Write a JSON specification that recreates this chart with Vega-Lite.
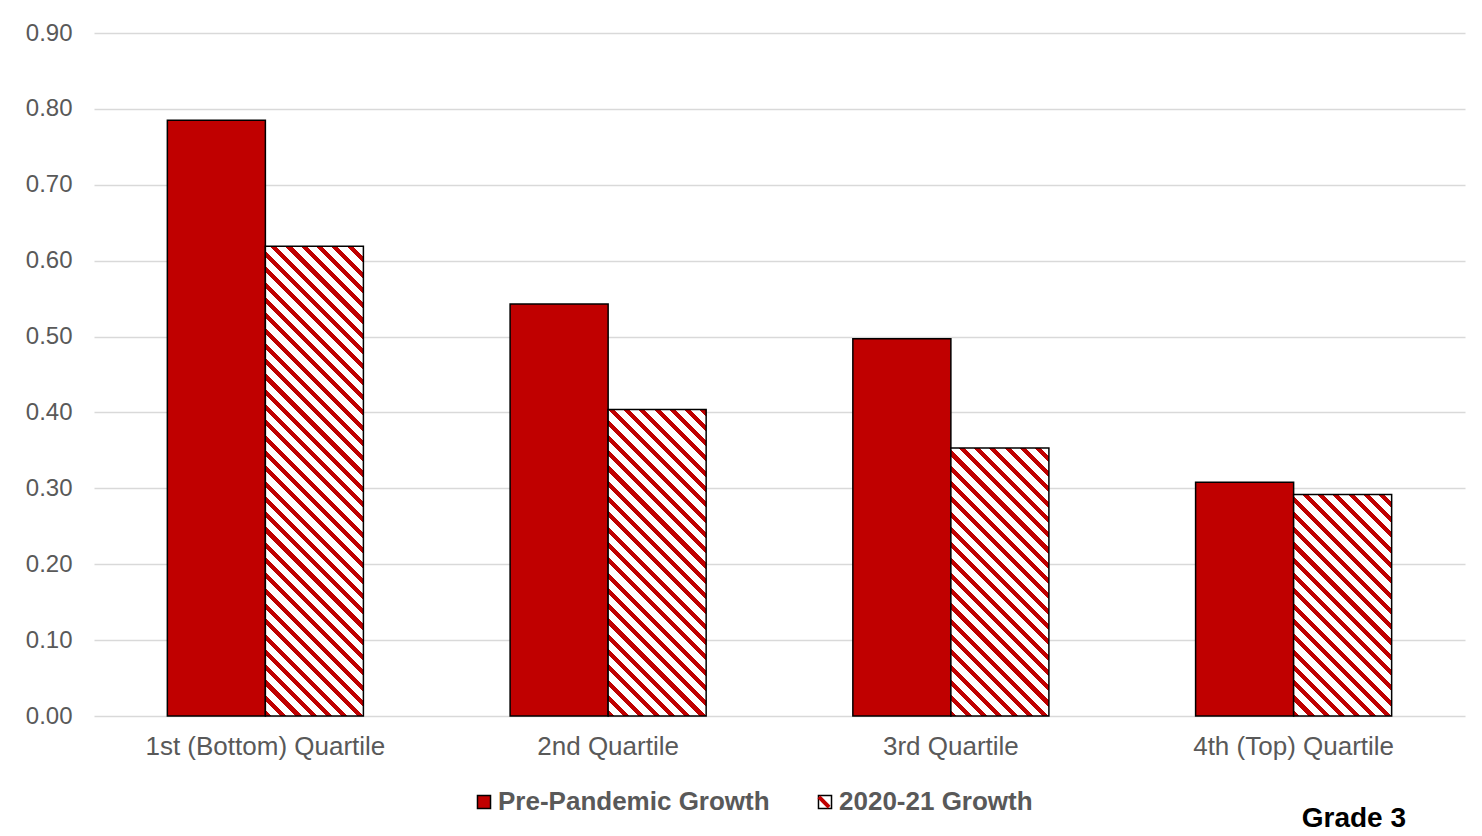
{
  "$schema": "https://vega.github.io/schema/vega-lite/v6.json",
  "autosize": {"type": "none"},
  "padding": {"left": 94, "top": 33, "right": 17, "bottom": 120},
  "width": 1371,
  "height": 683,
  "background": "#ffffff",
  "config": {"view": {"stroke": null}, "font": "Liberation Sans"},
  "title": {"text": "Grade 3", "orient": "bottom", "anchor": "end", "frame": "group", "fontSize": 28, "fontWeight": "bold", "color": "#000000", "font": "Liberation Sans", "dx": -59, "offset": 0, "dy": -11},
  "data": {"values": [
    {"quartile": "1st (Bottom) Quartile", "series": "Pre-Pandemic Growth", "value": 0.785},
    {"quartile": "1st (Bottom) Quartile", "series": "2020-21 Growth", "value": 0.619},
    {"quartile": "2nd Quartile", "series": "Pre-Pandemic Growth", "value": 0.543},
    {"quartile": "2nd Quartile", "series": "2020-21 Growth", "value": 0.404},
    {"quartile": "3rd Quartile", "series": "Pre-Pandemic Growth", "value": 0.497},
    {"quartile": "3rd Quartile", "series": "2020-21 Growth", "value": 0.353},
    {"quartile": "4th (Top) Quartile", "series": "Pre-Pandemic Growth", "value": 0.308},
    {"quartile": "4th (Top) Quartile", "series": "2020-21 Growth", "value": 0.292}
  ]},
  "encoding": {
    "x": {"field": "quartile", "type": "nominal", "sort": ["1st (Bottom) Quartile", "2nd Quartile", "3rd Quartile", "4th (Top) Quartile"],
      "scale": {"paddingInner": 0.428, "paddingOuter": 0.214},
      "axis": {"title": null, "labelAngle": 0, "domain": false, "ticks": false, "grid": false, "labelFontSize": 26, "labelColor": "#595959", "labelFont": "Liberation Sans", "labelPadding": 17, "labelLimit": 0}},
    "xOffset": {"field": "series", "type": "nominal", "sort": ["Pre-Pandemic Growth", "2020-21 Growth"], "scale": {"paddingInner": 0, "paddingOuter": 0}},
    "y": {"field": "value", "type": "quantitative", "scale": {"domain": [0, 0.9], "nice": false},
      "axis": {"title": null, "values": [0, 0.1, 0.2, 0.3, 0.4, 0.5, 0.6, 0.7, 0.8, 0.9], "format": ".2f", "domain": false, "ticks": false, "labelFontSize": 24, "labelColor": "#595959", "labelFont": "Liberation Sans", "labelPadding": 22, "gridColor": "#d9d9d9", "gridWidth": 1.5}}
  },
  "layer": [
    {
      "transform": [{"filter": "datum.series === 'Pre-Pandemic Growth'"}],
      "mark": {"type": "bar", "stroke": "#000000", "strokeWidth": 1.5},
      "encoding": {
        "color": {"field": "series", "type": "nominal",
          "scale": {"domain": ["Pre-Pandemic Growth", "2020-21 Growth"], "range": ["#c00000", "#ffffff"]},
          "legend": {"title": null, "orient": "none", "legendX": 377, "legendY": 756, "direction": "horizontal", "labelFontSize": 26, "labelFontWeight": "bold", "labelColor": "#595959", "labelFont": "Liberation Sans", "labelLimit": 0, "symbolType": "square", "symbolSize": 170, "symbolStrokeColor": "#000000", "symbolStrokeWidth": 1.5, "symbolOpacity": 1, "columnPadding": 42, "labelOffset": 1}
        }
      }
    },
    {
      "transform": [{"filter": "datum.series === '2020-21 Growth'"}],
      "mark": {"type": "bar", "opacity": 0},
      "encoding": {
        "stroke": {"field": "series", "type": "nominal",
          "scale": {"domain": ["2020-21 Growth"], "range": ["#c00000"]},
          "legend": {"title": null, "orient": "none", "legendX": 717, "legendY": 756, "zindex": 2, "direction": "horizontal", "labelFontSize": 26, "labelFontWeight": "bold", "labelColor": "#595959", "labelFont": "Liberation Sans", "labelExpr": "' '", "symbolType": "M-0.78,-0.78L0.78,0.78", "symbolSize": 170, "symbolStrokeWidth": 4, "symbolFillColor": "transparent", "symbolOpacity": 1, "labelOffset": 1}
        }
      }
    },
    {
      "transform": [{"filter": "datum.series === '2020-21 Growth'"}],
      "mark": {"type": "bar", "stroke": "#000000", "strokeWidth": 1.5},
      "encoding": {
        "fill": {"condition": [
          {"test": "datum.quartile === '1st (Bottom) Quartile'", "value": {"gradient": "linear", "x1": 0, "y1": 1, "x2": 0.26053, "y2": -0.24845, "stops": [
            {"offset":0,"color":"#c00000"},{"offset":0.01,"color":"#c00000"},{"offset":0.01,"color":"#fff"},{"offset":0.025,"color":"#fff"},
            {"offset":0.025,"color":"#c00000"},{"offset":0.035,"color":"#c00000"},{"offset":0.035,"color":"#fff"},{"offset":0.05,"color":"#fff"},
            {"offset":0.05,"color":"#c00000"},{"offset":0.06,"color":"#c00000"},{"offset":0.06,"color":"#fff"},{"offset":0.075,"color":"#fff"},
            {"offset":0.075,"color":"#c00000"},{"offset":0.085,"color":"#c00000"},{"offset":0.085,"color":"#fff"},{"offset":0.1,"color":"#fff"},
            {"offset":0.1,"color":"#c00000"},{"offset":0.11,"color":"#c00000"},{"offset":0.11,"color":"#fff"},{"offset":0.125,"color":"#fff"},
            {"offset":0.125,"color":"#c00000"},{"offset":0.135,"color":"#c00000"},{"offset":0.135,"color":"#fff"},{"offset":0.15,"color":"#fff"},
            {"offset":0.15,"color":"#c00000"},{"offset":0.16,"color":"#c00000"},{"offset":0.16,"color":"#fff"},{"offset":0.175,"color":"#fff"},
            {"offset":0.175,"color":"#c00000"},{"offset":0.185,"color":"#c00000"},{"offset":0.185,"color":"#fff"},{"offset":0.2,"color":"#fff"},
            {"offset":0.2,"color":"#c00000"},{"offset":0.21,"color":"#c00000"},{"offset":0.21,"color":"#fff"},{"offset":0.225,"color":"#fff"},
            {"offset":0.225,"color":"#c00000"},{"offset":0.235,"color":"#c00000"},{"offset":0.235,"color":"#fff"},{"offset":0.25,"color":"#fff"},
            {"offset":0.25,"color":"#c00000"},{"offset":0.26,"color":"#c00000"},{"offset":0.26,"color":"#fff"},{"offset":0.275,"color":"#fff"},
            {"offset":0.275,"color":"#c00000"},{"offset":0.285,"color":"#c00000"},{"offset":0.285,"color":"#fff"},{"offset":0.3,"color":"#fff"},
            {"offset":0.3,"color":"#c00000"},{"offset":0.31,"color":"#c00000"},{"offset":0.31,"color":"#fff"},{"offset":0.325,"color":"#fff"},
            {"offset":0.325,"color":"#c00000"},{"offset":0.335,"color":"#c00000"},{"offset":0.335,"color":"#fff"},{"offset":0.35,"color":"#fff"},
            {"offset":0.35,"color":"#c00000"},{"offset":0.36,"color":"#c00000"},{"offset":0.36,"color":"#fff"},{"offset":0.375,"color":"#fff"},
            {"offset":0.375,"color":"#c00000"},{"offset":0.385,"color":"#c00000"},{"offset":0.385,"color":"#fff"},{"offset":0.4,"color":"#fff"},
            {"offset":0.4,"color":"#c00000"},{"offset":0.41,"color":"#c00000"},{"offset":0.41,"color":"#fff"},{"offset":0.425,"color":"#fff"},
            {"offset":0.425,"color":"#c00000"},{"offset":0.435,"color":"#c00000"},{"offset":0.435,"color":"#fff"},{"offset":0.45,"color":"#fff"},
            {"offset":0.45,"color":"#c00000"},{"offset":0.46,"color":"#c00000"},{"offset":0.46,"color":"#fff"},{"offset":0.475,"color":"#fff"},
            {"offset":0.475,"color":"#c00000"},{"offset":0.485,"color":"#c00000"},{"offset":0.485,"color":"#fff"},{"offset":0.5,"color":"#fff"},
            {"offset":0.5,"color":"#c00000"},{"offset":0.51,"color":"#c00000"},{"offset":0.51,"color":"#fff"},{"offset":0.525,"color":"#fff"},
            {"offset":0.525,"color":"#c00000"},{"offset":0.535,"color":"#c00000"},{"offset":0.535,"color":"#fff"},{"offset":0.55,"color":"#fff"},
            {"offset":0.55,"color":"#c00000"},{"offset":0.56,"color":"#c00000"},{"offset":0.56,"color":"#fff"},{"offset":0.575,"color":"#fff"},
            {"offset":0.575,"color":"#c00000"},{"offset":0.585,"color":"#c00000"},{"offset":0.585,"color":"#fff"},{"offset":0.6,"color":"#fff"},
            {"offset":0.6,"color":"#c00000"},{"offset":0.61,"color":"#c00000"},{"offset":0.61,"color":"#fff"},{"offset":0.625,"color":"#fff"},
            {"offset":0.625,"color":"#c00000"},{"offset":0.635,"color":"#c00000"},{"offset":0.635,"color":"#fff"},{"offset":0.65,"color":"#fff"},
            {"offset":0.65,"color":"#c00000"},{"offset":0.66,"color":"#c00000"},{"offset":0.66,"color":"#fff"},{"offset":0.675,"color":"#fff"},
            {"offset":0.675,"color":"#c00000"},{"offset":0.685,"color":"#c00000"},{"offset":0.685,"color":"#fff"},{"offset":0.7,"color":"#fff"},
            {"offset":0.7,"color":"#c00000"},{"offset":0.71,"color":"#c00000"},{"offset":0.71,"color":"#fff"},{"offset":0.725,"color":"#fff"},
            {"offset":0.725,"color":"#c00000"},{"offset":0.735,"color":"#c00000"},{"offset":0.735,"color":"#fff"},{"offset":0.75,"color":"#fff"},
            {"offset":0.75,"color":"#c00000"},{"offset":0.76,"color":"#c00000"},{"offset":0.76,"color":"#fff"},{"offset":0.775,"color":"#fff"},
            {"offset":0.775,"color":"#c00000"},{"offset":0.785,"color":"#c00000"},{"offset":0.785,"color":"#fff"},{"offset":0.8,"color":"#fff"},
            {"offset":0.8,"color":"#c00000"},{"offset":0.81,"color":"#c00000"},{"offset":0.81,"color":"#fff"},{"offset":0.825,"color":"#fff"},
            {"offset":0.825,"color":"#c00000"},{"offset":0.835,"color":"#c00000"},{"offset":0.835,"color":"#fff"},{"offset":0.85,"color":"#fff"},
            {"offset":0.85,"color":"#c00000"},{"offset":0.86,"color":"#c00000"},{"offset":0.86,"color":"#fff"},{"offset":0.875,"color":"#fff"},
            {"offset":0.875,"color":"#c00000"},{"offset":0.885,"color":"#c00000"},{"offset":0.885,"color":"#fff"},{"offset":0.9,"color":"#fff"},
            {"offset":0.9,"color":"#c00000"},{"offset":0.91,"color":"#c00000"},{"offset":0.91,"color":"#fff"},{"offset":0.925,"color":"#fff"},
            {"offset":0.925,"color":"#c00000"},{"offset":0.935,"color":"#c00000"},{"offset":0.935,"color":"#fff"},{"offset":1,"color":"#fff"}
          ]}},
          {"test": "datum.quartile === '2nd Quartile'", "value": {"gradient": "linear", "x1": 0, "y1": 1, "x2": 0.57906, "y2": -0.81101, "stops": [
            {"offset":0,"color":"#c00000"},{"offset":0.01,"color":"#c00000"},{"offset":0.01,"color":"#fff"},{"offset":0.025,"color":"#fff"},
            {"offset":0.025,"color":"#c00000"},{"offset":0.035,"color":"#c00000"},{"offset":0.035,"color":"#fff"},{"offset":0.05,"color":"#fff"},
            {"offset":0.05,"color":"#c00000"},{"offset":0.06,"color":"#c00000"},{"offset":0.06,"color":"#fff"},{"offset":0.075,"color":"#fff"},
            {"offset":0.075,"color":"#c00000"},{"offset":0.085,"color":"#c00000"},{"offset":0.085,"color":"#fff"},{"offset":0.1,"color":"#fff"},
            {"offset":0.1,"color":"#c00000"},{"offset":0.11,"color":"#c00000"},{"offset":0.11,"color":"#fff"},{"offset":0.125,"color":"#fff"},
            {"offset":0.125,"color":"#c00000"},{"offset":0.135,"color":"#c00000"},{"offset":0.135,"color":"#fff"},{"offset":0.15,"color":"#fff"},
            {"offset":0.15,"color":"#c00000"},{"offset":0.16,"color":"#c00000"},{"offset":0.16,"color":"#fff"},{"offset":0.175,"color":"#fff"},
            {"offset":0.175,"color":"#c00000"},{"offset":0.185,"color":"#c00000"},{"offset":0.185,"color":"#fff"},{"offset":0.2,"color":"#fff"},
            {"offset":0.2,"color":"#c00000"},{"offset":0.21,"color":"#c00000"},{"offset":0.21,"color":"#fff"},{"offset":0.225,"color":"#fff"},
            {"offset":0.225,"color":"#c00000"},{"offset":0.235,"color":"#c00000"},{"offset":0.235,"color":"#fff"},{"offset":0.25,"color":"#fff"},
            {"offset":0.25,"color":"#c00000"},{"offset":0.26,"color":"#c00000"},{"offset":0.26,"color":"#fff"},{"offset":0.275,"color":"#fff"},
            {"offset":0.275,"color":"#c00000"},{"offset":0.285,"color":"#c00000"},{"offset":0.285,"color":"#fff"},{"offset":0.3,"color":"#fff"},
            {"offset":0.3,"color":"#c00000"},{"offset":0.31,"color":"#c00000"},{"offset":0.31,"color":"#fff"},{"offset":0.325,"color":"#fff"},
            {"offset":0.325,"color":"#c00000"},{"offset":0.335,"color":"#c00000"},{"offset":0.335,"color":"#fff"},{"offset":0.35,"color":"#fff"},
            {"offset":0.35,"color":"#c00000"},{"offset":0.36,"color":"#c00000"},{"offset":0.36,"color":"#fff"},{"offset":0.375,"color":"#fff"},
            {"offset":0.375,"color":"#c00000"},{"offset":0.385,"color":"#c00000"},{"offset":0.385,"color":"#fff"},{"offset":0.4,"color":"#fff"},
            {"offset":0.4,"color":"#c00000"},{"offset":0.41,"color":"#c00000"},{"offset":0.41,"color":"#fff"},{"offset":0.425,"color":"#fff"},
            {"offset":0.425,"color":"#c00000"},{"offset":0.435,"color":"#c00000"},{"offset":0.435,"color":"#fff"},{"offset":0.45,"color":"#fff"},
            {"offset":0.45,"color":"#c00000"},{"offset":0.46,"color":"#c00000"},{"offset":0.46,"color":"#fff"},{"offset":0.475,"color":"#fff"},
            {"offset":0.475,"color":"#c00000"},{"offset":0.485,"color":"#c00000"},{"offset":0.485,"color":"#fff"},{"offset":0.5,"color":"#fff"},
            {"offset":0.5,"color":"#c00000"},{"offset":0.51,"color":"#c00000"},{"offset":0.51,"color":"#fff"},{"offset":0.525,"color":"#fff"},
            {"offset":0.525,"color":"#c00000"},{"offset":0.535,"color":"#c00000"},{"offset":0.535,"color":"#fff"},{"offset":0.55,"color":"#fff"},
            {"offset":0.55,"color":"#c00000"},{"offset":0.56,"color":"#c00000"},{"offset":0.56,"color":"#fff"},{"offset":0.575,"color":"#fff"},
            {"offset":0.575,"color":"#c00000"},{"offset":0.585,"color":"#c00000"},{"offset":0.585,"color":"#fff"},{"offset":0.6,"color":"#fff"},
            {"offset":0.6,"color":"#c00000"},{"offset":0.61,"color":"#c00000"},{"offset":0.61,"color":"#fff"},{"offset":0.625,"color":"#fff"},
            {"offset":0.625,"color":"#c00000"},{"offset":0.635,"color":"#c00000"},{"offset":0.635,"color":"#fff"},{"offset":0.65,"color":"#fff"},
            {"offset":0.65,"color":"#c00000"},{"offset":0.66,"color":"#c00000"},{"offset":0.66,"color":"#fff"},{"offset":0.675,"color":"#fff"},
            {"offset":0.675,"color":"#c00000"},{"offset":0.685,"color":"#c00000"},{"offset":0.685,"color":"#fff"},{"offset":1,"color":"#fff"}
          ]}},
          {"test": "datum.quartile === '3rd Quartile'", "value": {"gradient": "linear", "x1": 0, "y1": 1, "x2": 0.73724, "y2": -1.01468, "stops": [
            {"offset":0,"color":"#c00000"},{"offset":0.01,"color":"#c00000"},{"offset":0.01,"color":"#fff"},{"offset":0.025,"color":"#fff"},
            {"offset":0.025,"color":"#c00000"},{"offset":0.035,"color":"#c00000"},{"offset":0.035,"color":"#fff"},{"offset":0.05,"color":"#fff"},
            {"offset":0.05,"color":"#c00000"},{"offset":0.06,"color":"#c00000"},{"offset":0.06,"color":"#fff"},{"offset":0.075,"color":"#fff"},
            {"offset":0.075,"color":"#c00000"},{"offset":0.085,"color":"#c00000"},{"offset":0.085,"color":"#fff"},{"offset":0.1,"color":"#fff"},
            {"offset":0.1,"color":"#c00000"},{"offset":0.11,"color":"#c00000"},{"offset":0.11,"color":"#fff"},{"offset":0.125,"color":"#fff"},
            {"offset":0.125,"color":"#c00000"},{"offset":0.135,"color":"#c00000"},{"offset":0.135,"color":"#fff"},{"offset":0.15,"color":"#fff"},
            {"offset":0.15,"color":"#c00000"},{"offset":0.16,"color":"#c00000"},{"offset":0.16,"color":"#fff"},{"offset":0.175,"color":"#fff"},
            {"offset":0.175,"color":"#c00000"},{"offset":0.185,"color":"#c00000"},{"offset":0.185,"color":"#fff"},{"offset":0.2,"color":"#fff"},
            {"offset":0.2,"color":"#c00000"},{"offset":0.21,"color":"#c00000"},{"offset":0.21,"color":"#fff"},{"offset":0.225,"color":"#fff"},
            {"offset":0.225,"color":"#c00000"},{"offset":0.235,"color":"#c00000"},{"offset":0.235,"color":"#fff"},{"offset":0.25,"color":"#fff"},
            {"offset":0.25,"color":"#c00000"},{"offset":0.26,"color":"#c00000"},{"offset":0.26,"color":"#fff"},{"offset":0.275,"color":"#fff"},
            {"offset":0.275,"color":"#c00000"},{"offset":0.285,"color":"#c00000"},{"offset":0.285,"color":"#fff"},{"offset":0.3,"color":"#fff"},
            {"offset":0.3,"color":"#c00000"},{"offset":0.31,"color":"#c00000"},{"offset":0.31,"color":"#fff"},{"offset":0.325,"color":"#fff"},
            {"offset":0.325,"color":"#c00000"},{"offset":0.335,"color":"#c00000"},{"offset":0.335,"color":"#fff"},{"offset":0.35,"color":"#fff"},
            {"offset":0.35,"color":"#c00000"},{"offset":0.36,"color":"#c00000"},{"offset":0.36,"color":"#fff"},{"offset":0.375,"color":"#fff"},
            {"offset":0.375,"color":"#c00000"},{"offset":0.385,"color":"#c00000"},{"offset":0.385,"color":"#fff"},{"offset":0.4,"color":"#fff"},
            {"offset":0.4,"color":"#c00000"},{"offset":0.41,"color":"#c00000"},{"offset":0.41,"color":"#fff"},{"offset":0.425,"color":"#fff"},
            {"offset":0.425,"color":"#c00000"},{"offset":0.435,"color":"#c00000"},{"offset":0.435,"color":"#fff"},{"offset":0.45,"color":"#fff"},
            {"offset":0.45,"color":"#c00000"},{"offset":0.46,"color":"#c00000"},{"offset":0.46,"color":"#fff"},{"offset":0.475,"color":"#fff"},
            {"offset":0.475,"color":"#c00000"},{"offset":0.485,"color":"#c00000"},{"offset":0.485,"color":"#fff"},{"offset":0.5,"color":"#fff"},
            {"offset":0.5,"color":"#c00000"},{"offset":0.51,"color":"#c00000"},{"offset":0.51,"color":"#fff"},{"offset":0.525,"color":"#fff"},
            {"offset":0.525,"color":"#c00000"},{"offset":0.535,"color":"#c00000"},{"offset":0.535,"color":"#fff"},{"offset":0.55,"color":"#fff"},
            {"offset":0.55,"color":"#c00000"},{"offset":0.56,"color":"#c00000"},{"offset":0.56,"color":"#fff"},{"offset":0.575,"color":"#fff"},
            {"offset":0.575,"color":"#c00000"},{"offset":0.585,"color":"#c00000"},{"offset":0.585,"color":"#fff"},{"offset":0.6,"color":"#fff"},
            {"offset":0.6,"color":"#c00000"},{"offset":0.61,"color":"#c00000"},{"offset":0.61,"color":"#fff"},{"offset":1,"color":"#fff"}
          ]}},
          {"test": "datum.quartile === '4th (Top) Quartile'", "value": {"gradient": "linear", "x1": 0, "y1": 1, "x2": 1.02175, "y2": -1.30969, "stops": [
            {"offset":0,"color":"#c00000"},{"offset":0.01,"color":"#c00000"},{"offset":0.01,"color":"#fff"},{"offset":0.025,"color":"#fff"},
            {"offset":0.025,"color":"#c00000"},{"offset":0.035,"color":"#c00000"},{"offset":0.035,"color":"#fff"},{"offset":0.05,"color":"#fff"},
            {"offset":0.05,"color":"#c00000"},{"offset":0.06,"color":"#c00000"},{"offset":0.06,"color":"#fff"},{"offset":0.075,"color":"#fff"},
            {"offset":0.075,"color":"#c00000"},{"offset":0.085,"color":"#c00000"},{"offset":0.085,"color":"#fff"},{"offset":0.1,"color":"#fff"},
            {"offset":0.1,"color":"#c00000"},{"offset":0.11,"color":"#c00000"},{"offset":0.11,"color":"#fff"},{"offset":0.125,"color":"#fff"},
            {"offset":0.125,"color":"#c00000"},{"offset":0.135,"color":"#c00000"},{"offset":0.135,"color":"#fff"},{"offset":0.15,"color":"#fff"},
            {"offset":0.15,"color":"#c00000"},{"offset":0.16,"color":"#c00000"},{"offset":0.16,"color":"#fff"},{"offset":0.175,"color":"#fff"},
            {"offset":0.175,"color":"#c00000"},{"offset":0.185,"color":"#c00000"},{"offset":0.185,"color":"#fff"},{"offset":0.2,"color":"#fff"},
            {"offset":0.2,"color":"#c00000"},{"offset":0.21,"color":"#c00000"},{"offset":0.21,"color":"#fff"},{"offset":0.225,"color":"#fff"},
            {"offset":0.225,"color":"#c00000"},{"offset":0.235,"color":"#c00000"},{"offset":0.235,"color":"#fff"},{"offset":0.25,"color":"#fff"},
            {"offset":0.25,"color":"#c00000"},{"offset":0.26,"color":"#c00000"},{"offset":0.26,"color":"#fff"},{"offset":0.275,"color":"#fff"},
            {"offset":0.275,"color":"#c00000"},{"offset":0.285,"color":"#c00000"},{"offset":0.285,"color":"#fff"},{"offset":0.3,"color":"#fff"},
            {"offset":0.3,"color":"#c00000"},{"offset":0.31,"color":"#c00000"},{"offset":0.31,"color":"#fff"},{"offset":0.325,"color":"#fff"},
            {"offset":0.325,"color":"#c00000"},{"offset":0.335,"color":"#c00000"},{"offset":0.335,"color":"#fff"},{"offset":0.35,"color":"#fff"},
            {"offset":0.35,"color":"#c00000"},{"offset":0.36,"color":"#c00000"},{"offset":0.36,"color":"#fff"},{"offset":0.375,"color":"#fff"},
            {"offset":0.375,"color":"#c00000"},{"offset":0.385,"color":"#c00000"},{"offset":0.385,"color":"#fff"},{"offset":0.4,"color":"#fff"},
            {"offset":0.4,"color":"#c00000"},{"offset":0.41,"color":"#c00000"},{"offset":0.41,"color":"#fff"},{"offset":0.425,"color":"#fff"},
            {"offset":0.425,"color":"#c00000"},{"offset":0.435,"color":"#c00000"},{"offset":0.435,"color":"#fff"},{"offset":0.45,"color":"#fff"},
            {"offset":0.45,"color":"#c00000"},{"offset":0.46,"color":"#c00000"},{"offset":0.46,"color":"#fff"},{"offset":0.475,"color":"#fff"},
            {"offset":0.475,"color":"#c00000"},{"offset":0.485,"color":"#c00000"},{"offset":0.485,"color":"#fff"},{"offset":0.5,"color":"#fff"},
            {"offset":0.5,"color":"#c00000"},{"offset":0.51,"color":"#c00000"},{"offset":0.51,"color":"#fff"},{"offset":0.525,"color":"#fff"},
            {"offset":0.525,"color":"#c00000"},{"offset":0.535,"color":"#c00000"},{"offset":0.535,"color":"#fff"},{"offset":1,"color":"#fff"}
          ]}}
        ], "value": "#ffffff"}
      }
    }
  ]
}
